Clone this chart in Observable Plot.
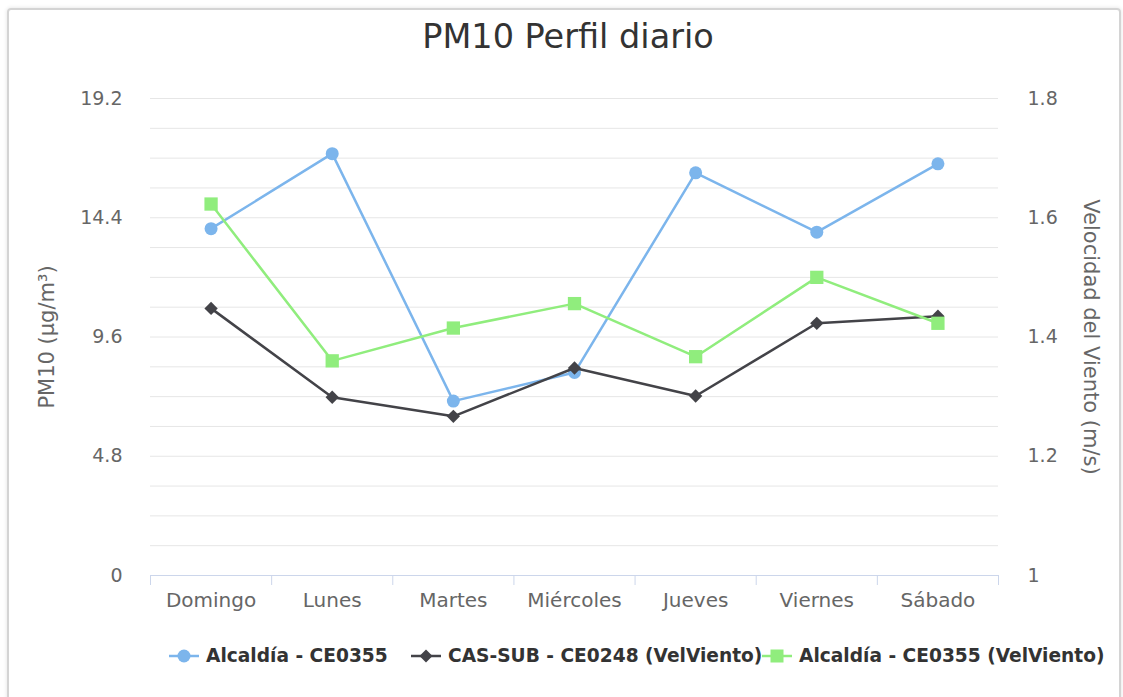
<!DOCTYPE html>
<html>
<head>
<meta charset="utf-8">
<script src="https://cdn.jsdelivr.net/npm/d3@7"></script>
<script src="https://cdn.jsdelivr.net/npm/@observablehq/plot@0.6"></script>
<style>
  body { margin: 0; background: #fff; font-family: "DejaVu Sans", sans-serif; overflow: hidden; }
  #wrap { position: relative; width: 1123px; height: 697px; overflow: hidden; background: #fff; }
  #frame { position: absolute; left: 7px; top: 8px; width: 1110px; height: 740px; border: 2px solid #d4d4d4; border-radius: 4px; box-shadow: 0 0 4px rgba(0,0,0,0.12); }
  #title { position: absolute; left: 0; width: 1136px; top: 20px; text-align: center; font-size: 33.5px; line-height: 34px; color: #333; white-space: nowrap; }
  #chart { position: absolute; left: 0; top: 0; }
  .leg { position: absolute; top: 646px; height: 20px; display: flex; align-items: center; font-weight: bold; font-size: 18.6px; line-height: 20px; color: #333; white-space: nowrap; }
  .leg svg { display: block; }
  .leg span { margin-left: 7px; }
</style>
</head>
<body>
<div id="wrap">
  <div id="frame"></div>
  <div id="chart"></div>
  <div id="title">PM10 Perfil diario</div>
  <div id="legend"></div>
</div>
<script>
// ---- data ----
const days = ["Domingo", "Lunes", "Martes", "Miércoles", "Jueves", "Viernes", "Sábado"];
const pm10Alcaldia = [13.96, 16.98, 7.02, 8.17, 16.21, 13.82, 16.57];      // µg/m³ (left axis)
const vientoCasSub = [1.448, 1.299, 1.267, 1.348, 1.301, 1.423, 1.435];    // m/s (right axis)
const vientoAlcaldia = [1.623, 1.360, 1.415, 1.456, 1.367, 1.500, 1.423];  // m/s (right axis)
const leftTicks = [0, 4.8, 9.6, 14.4, 19.2];
const rightTicks = [1, 1.2, 1.4, 1.6, 1.8];
const gridLines = [1.2, 2.4, 3.6, 4.8, 6, 7.2, 8.4, 9.6, 10.8, 12, 13.2, 14.4, 15.6, 16.8, 18, 19.2];
const seriesNames = ["Alcaldía - CE0355", "CAS-SUB - CE0248 (VelViento)", "Alcaldía - CE0355 (VelViento)"];
const colors = ["#7cb5ec", "#434348", "#90ed7d"];

// map the right (wind) axis onto the left (PM10) scale
const wind = d3.scaleLinear()
  .domain([rightTicks[0], rightTicks[rightTicks.length - 1]])
  .range([leftTicks[0], leftTicks[leftTicks.length - 1]]);

const rows = days.map((day, i) => ({
  day, pos: i + 0.5,
  pm: pm10Alcaldia[i],
  cas: wind(vientoCasSub[i]),
  alc: wind(vientoAlcaldia[i])
}));
const bounds = d3.range(days.length + 1);

const chart = Plot.plot({
  width: 1123,
  height: 697,
  marginTop: 98,
  marginBottom: 122,
  marginLeft: 150,
  marginRight: 125,
  style: { fontFamily: "DejaVu Sans", fontSize: "19px", color: "#666", background: "transparent", overflow: "visible" },
  x: { domain: [0, days.length] },
  y: { domain: [leftTicks[0], leftTicks[leftTicks.length - 1]] },
  marks: [
    Plot.gridY(gridLines, { stroke: "#e6e6e6", strokeOpacity: 1 }),
    Plot.ruleY([0], { stroke: "#ccd6eb" }),
    Plot.axisX(bounds, { tickSize: 10, tickFormat: () => "", stroke: "#ccd6eb", strokeOpacity: 1, label: null }),
    Plot.axisX(rows.map(r => r.pos), { tickSize: 0, tickPadding: 17, tickFormat: v => days[Math.floor(v)], fontSize: 20, label: null }),
    Plot.axisY(leftTicks, { anchor: "left", tickSize: 0, tickPadding: 28, tickFormat: d => String(d), fontSize: 19, label: null }),
    Plot.axisY(rightTicks.map(v => wind(v)), { anchor: "right", tickSize: 0, tickPadding: 29, tickFormat: v => String(+wind.invert(v).toFixed(1)), fontSize: 19, label: null }),
    Plot.text(["PM10 (µg/m³)"], { frameAnchor: "left", dx: -103, rotate: -90, textAnchor: "middle", lineAnchor: "middle", fontSize: 21, fill: "#666" }),
    Plot.text(["Velocidad del Viento (m/s)"], { frameAnchor: "right", dx: 92, rotate: 90, textAnchor: "middle", lineAnchor: "middle", fontSize: 21, fill: "#666" }),
    Plot.line(rows, { x: "pos", y: "pm", stroke: colors[0], strokeWidth: 2.5 }),
    Plot.dot(rows, { x: "pos", y: "pm", r: 6.5, fill: colors[0], symbol: "circle" }),
    Plot.line(rows, { x: "pos", y: "cas", stroke: colors[1], strokeWidth: 2.5 }),
    Plot.dot(rows, { x: "pos", y: "cas", r: 6, fill: colors[1], symbol: "diamond2" }),
    Plot.line(rows, { x: "pos", y: "alc", stroke: colors[2], strokeWidth: 2.5 }),
    Plot.dot(rows, { x: "pos", y: "alc", r: 7.5, fill: colors[2], symbol: "square" })
  ]
});
document.getElementById("chart").appendChild(chart);

// ---- legend ----
const legendLefts = [169, 411, 762];
const markers = [
  c => `<circle cx="15" cy="10" r="6.5" fill="${c}"/>`,
  c => `<path d="M15 3.5 L21.5 10 L15 16.5 L8.5 10 Z" fill="${c}"/>`,
  c => `<rect x="8.5" y="3.5" width="13" height="13" fill="${c}"/>`
];
const legend = document.getElementById("legend");
seriesNames.forEach((name, i) => {
  const item = document.createElement("div");
  item.className = "leg";
  item.style.left = legendLefts[i] + "px";
  item.innerHTML = `<svg width="30" height="20"><line x1="0" x2="30" y1="10" y2="10" stroke="${colors[i]}" stroke-width="2.5"/>${markers[i](colors[i])}</svg><span>${name}</span>`;
  legend.appendChild(item);
});
</script>
</body>
</html>
